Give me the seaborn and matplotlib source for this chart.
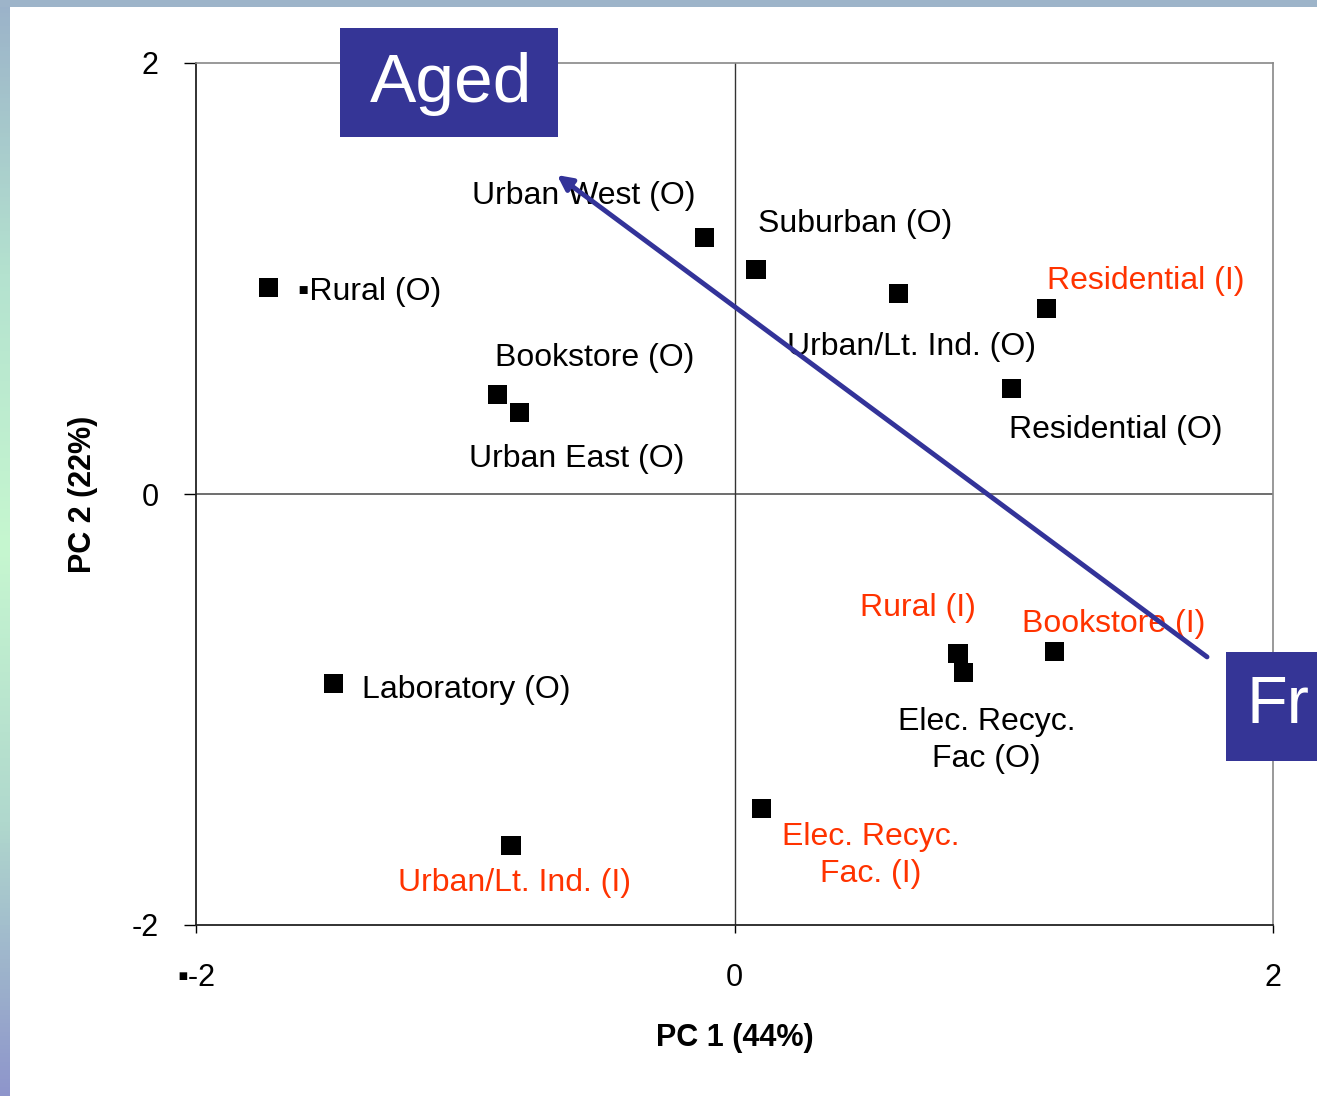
import numpy as np
import pandas as pd
import seaborn as sns
import matplotlib.pyplot as plt
from matplotlib.colors import LinearSegmentedColormap
from matplotlib.patches import Rectangle

# Данные: координаты образцов по главным компонентам
labels = [
    "\u25aaRural (O)", "Urban West (O)", "Suburban (O)", "Urban/Lt. Ind. (O)",
    "Residential (I)", "Residential (O)", "Bookstore (O)", "Urban East (O)",
    "Laboratory (O)", "Rural (I)", "Elec. Recyc.\nFac (O)", "Bookstore (I)",
    "Elec. Recyc.\nFac. (I)", "Urban/Lt. Ind. (I)",
]
pc1 = [-1.73, -0.11, 0.08, 0.61, 1.16, 1.03, -0.88, -0.80,
       -1.49, 0.83, 0.85, 1.19, 0.10, -0.83]
pc2 = [0.96, 1.19, 1.04, 0.93, 0.86, 0.49, 0.46, 0.38,
       -0.88, -0.74, -0.83, -0.73, -1.46, -1.63]
sample_type = ["O", "O", "O", "O", "I", "O", "O", "O",
               "O", "I", "O", "I", "I", "I"]

# Смещения подписей (пиксели) и выравнивание
label_dx = [29, -233, 2, -112, 0, -3, -3, -50, 29, -98, 23, -33, 109, -113]
label_dy = [-5, 42, 46, -53, 28, -42, 37, -47, -6, 45, -68, 27, -47, -38]
label_ha = ["left"] * 10 + ["center", "left", "center", "left"]

# Стрелка градиента "Aged" <- "Fresh"
arrow_start = (1.755, -0.756)
arrow_end = (-0.659, 1.48)

xticks = [-2, 0, 2]
xtick_labels = ["\u25aa-2", "0", "2"]
yticks = [-2, 0, 2]

df = pd.DataFrame({"pc1": pc1, "pc2": pc2, "label": labels, "type": sample_type})

sns.set_style("white")
plt.rcParams["font.family"] = ["Liberation Sans", "DejaVu Sans"]
plt.rcParams["axes.unicode_minus"] = False

fig = plt.figure(figsize=(13.17, 10.96), dpi=100)
fig.patch.set_facecolor("white")

# Рамка слайда: полоса сверху и градиент слева
band = fig.add_axes([0, 0, 10 / 1317, 1])
grad = LinearSegmentedColormap.from_list(
    "slide", ["#9bb2c9", "#b4e2cf", "#c6f7d0", "#b0d8cd", "#8e95cb"])
band.imshow(np.linspace(0, 1, 256).reshape(-1, 1), aspect="auto", cmap=grad)
band.axis("off")
fig.patches.append(Rectangle((0, 1 - 7 / 1096), 1, 7 / 1096, transform=fig.transFigure,
                             facecolor="#9db4c9", edgecolor="none", zorder=5))

ax = fig.add_axes([196 / 1317, 1 - 925 / 1096, 1077 / 1317, 862 / 1096])
sns.scatterplot(data=df, x="pc1", y="pc2", marker="s", s=190, color="black",
                edgecolor="none", ax=ax, zorder=3, legend=False)

colors = {"O": "black", "I": "#ff3300"}
for i, row in df.iterrows():
    ax.annotate(row["label"], (row["pc1"], row["pc2"]),
                xytext=(label_dx[i], label_dy[i]), textcoords="offset pixels",
                ha=label_ha[i], va="center", fontsize=23, color=colors[row["type"]],
                linespacing=1.3, zorder=4)

ax.annotate("", xy=arrow_end, xytext=arrow_start,
            arrowprops=dict(arrowstyle="-|>", color="#333399", lw=3.5,
                            mutation_scale=22, shrinkA=0, shrinkB=0),
            zorder=6)

ax.axhline(0, color="#555555", lw=1.2, zorder=1)
ax.axvline(0, color="#333333", lw=1.0, zorder=1)

ax.set_xlim(-2, 2)
ax.set_ylim(-2, 2)
ax.set_xticks(xticks)
ax.set_xticklabels(xtick_labels)
ax.set_yticks(yticks)
ax.tick_params(axis="x", bottom=True, direction="out", length=6, width=1,
               pad=21, labelsize=22, colors="black")
ax.tick_params(axis="y", left=True, direction="out", length=9, width=1,
               pad=18, labelsize=22, colors="black")
ax.set_xlabel("PC 1 (44%)", fontsize=22, fontweight="bold", color="black", labelpad=22)
ax.set_ylabel("PC 2 (22%)", fontsize=22, fontweight="bold", color="black", labelpad=24)

for side in ["left", "bottom"]:
    ax.spines[side].set_color("#222222")
    ax.spines[side].set_linewidth(1.3)
for side in ["top", "right"]:
    ax.spines[side].set_color("#888888")
    ax.spines[side].set_linewidth(1.2)

# Подписи-плашки "Aged" и "Fr(esh)" — вторая обрезана краем слайда
box_color = "#353596"
fig.patches.append(Rectangle((340 / 1317, 1 - 137 / 1096), 218 / 1317, 109 / 1096,
                             transform=fig.transFigure, facecolor=box_color,
                             edgecolor="none", zorder=7))
fig.text(451 / 1317, 1 - 84 / 1096, "Aged", color="white", fontsize=50,
         ha="center", va="center", zorder=8)
fig.patches.append(Rectangle((1226 / 1317, 1 - 761 / 1096), 200 / 1317, 109 / 1096,
                             transform=fig.transFigure, facecolor=box_color,
                             edgecolor="none", zorder=7))
fig.text(1246 / 1317, 1 - 706 / 1096, "Fr", color="white", fontsize=48,
         ha="left", va="center", zorder=8)

fig.savefig("out.png", dpi=100)
